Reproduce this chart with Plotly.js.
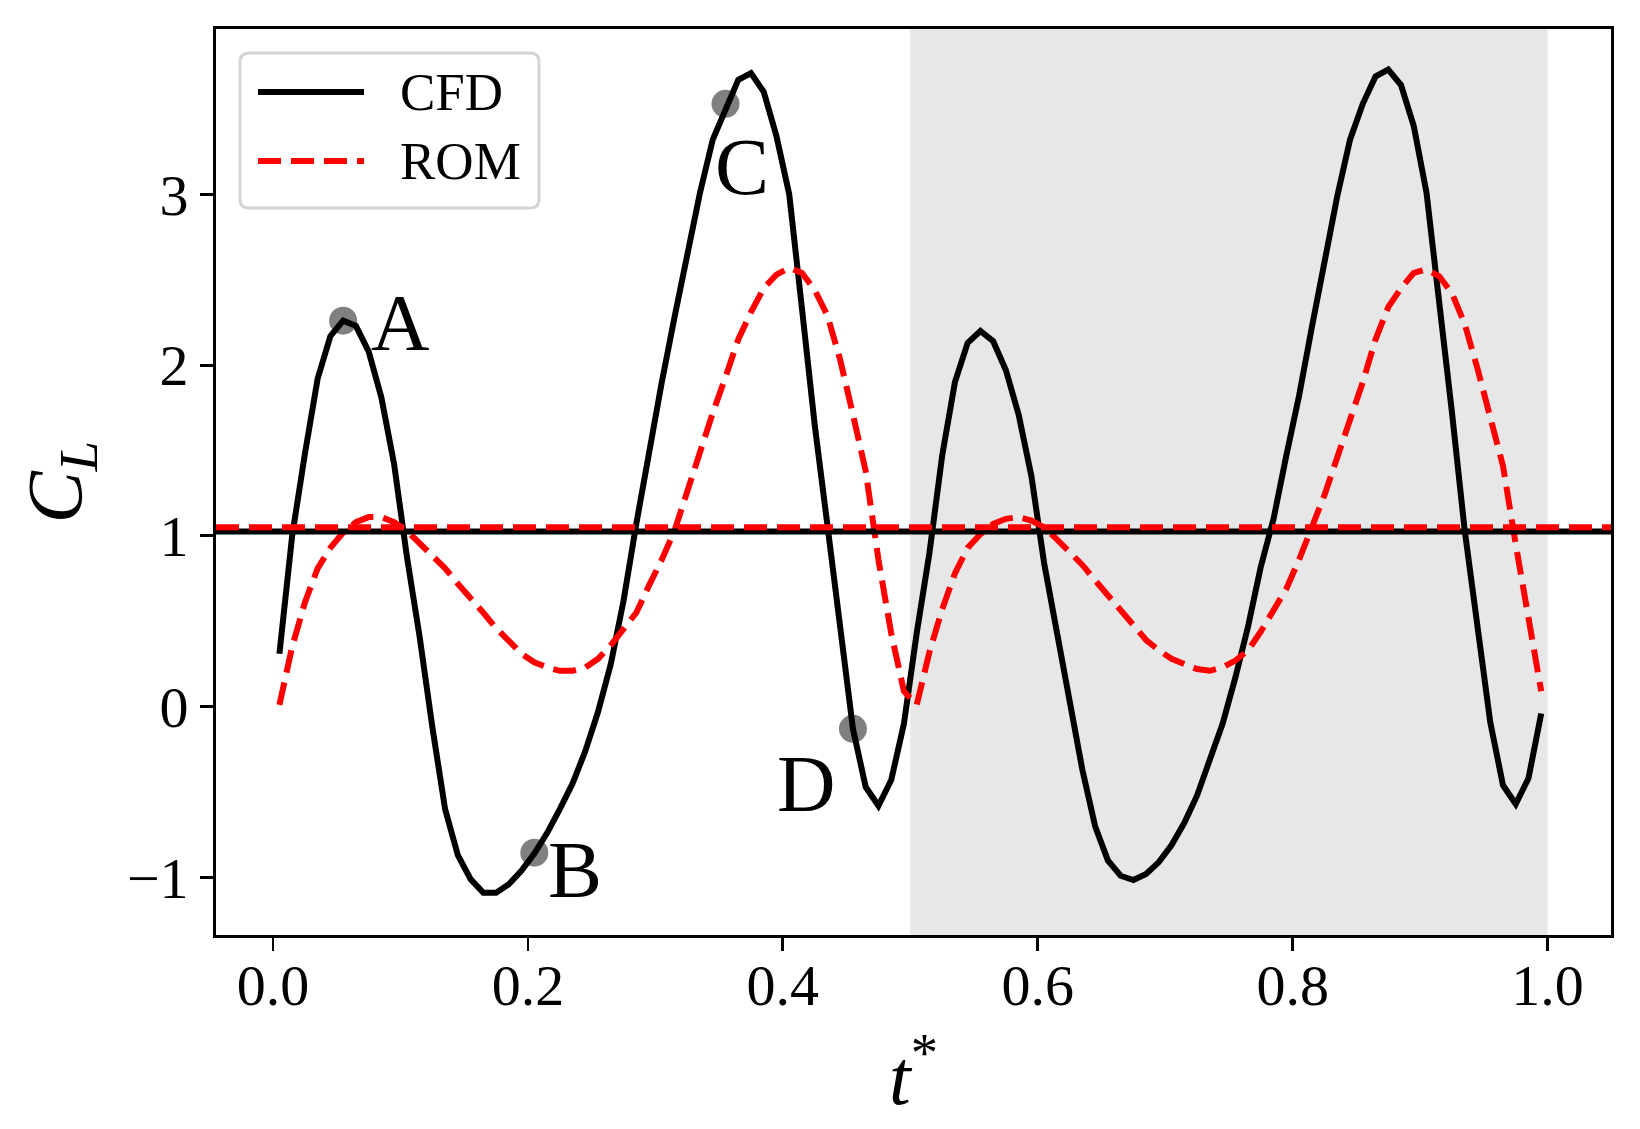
<!DOCTYPE html>
<html>
<head>
<meta charset="utf-8">
<script src="https://cdn.plot.ly/plotly-3.0.1.min.js"></script>
<style>
  html, body { margin: 0; padding: 0; background: #fff; }
  #chart { width: 1640px; height: 1129px; }
</style>
</head>
<body>
<div id="chart"></div>
<script>
// --- Data ---
const tStar = [
  0.005, 0.015, 0.025, 0.035, 0.045, 0.055, 0.065, 0.075, 0.085, 0.095,
  0.105, 0.115, 0.125, 0.135, 0.145, 0.155, 0.165, 0.175, 0.185, 0.195,
  0.205, 0.215, 0.225, 0.235, 0.245, 0.255, 0.265, 0.275, 0.285, 0.295,
  0.305, 0.315, 0.325, 0.335, 0.345, 0.355, 0.365, 0.375, 0.385, 0.395,
  0.405, 0.415, 0.425, 0.435, 0.445, 0.455, 0.465, 0.475, 0.485, 0.495,
  0.505, 0.515, 0.525, 0.535, 0.545, 0.555, 0.565, 0.575, 0.585, 0.595,
  0.605, 0.615, 0.625, 0.635, 0.645, 0.655, 0.665, 0.675, 0.685, 0.695,
  0.705, 0.715, 0.725, 0.735, 0.745, 0.755, 0.765, 0.775, 0.785, 0.795,
  0.805, 0.815, 0.825, 0.835, 0.845, 0.855, 0.865, 0.875, 0.885, 0.895,
  0.905, 0.915, 0.925, 0.935, 0.945, 0.955, 0.965, 0.975, 0.985, 0.995
];

const cfdLift = [
  0.31, 1.00, 1.48, 1.92, 2.17, 2.26, 2.23, 2.08, 1.81, 1.42,
  0.88, 0.41, -0.12, -0.60, -0.87, -1.01, -1.09, -1.09, -1.04, -0.96,
  -0.86, -0.74, -0.60, -0.45, -0.26, -0.03, 0.25, 0.62, 1.07, 1.50,
  1.90, 2.28, 2.65, 3.01, 3.32, 3.50, 3.67, 3.71, 3.60, 3.34,
  3.00, 2.33, 1.65, 1.06, 0.47, -0.13, -0.47, -0.58, -0.43, -0.10,
  0.43, 0.90, 1.47, 1.90, 2.13, 2.20, 2.14, 1.97, 1.71, 1.35,
  0.84, 0.42, 0.00, -0.37, -0.70, -0.90, -0.99, -1.015, -0.98, -0.91,
  -0.81, -0.68, -0.52, -0.31, -0.10, 0.17, 0.47, 0.82, 1.10, 1.47,
  1.82, 2.22, 2.62, 2.99, 3.32, 3.53, 3.69, 3.73, 3.64, 3.40,
  3.01, 2.40, 1.72, 1.03, 0.47, -0.09, -0.46, -0.57, -0.42, -0.04
];

const romLift = [
  0.01, 0.35, 0.61, 0.81, 0.93, 1.02, 1.08, 1.11, 1.11, 1.08,
  1.03, 0.96, 0.88, 0.81, 0.72, 0.64, 0.55, 0.46, 0.38, 0.31,
  0.26, 0.23, 0.21, 0.21, 0.23, 0.28, 0.36, 0.45, 0.55, 0.71,
  0.86, 1.03, 1.26, 1.50, 1.72, 1.93, 2.15, 2.31, 2.45, 2.53,
  2.57, 2.54, 2.44, 2.29, 2.03, 1.71, 1.38, 0.86, 0.43, 0.09,
  0.01, 0.32, 0.57, 0.78, 0.93, 1.01, 1.07, 1.10, 1.11, 1.09,
  1.05, 0.98, 0.91, 0.83, 0.74, 0.65, 0.56, 0.47, 0.39, 0.33,
  0.28, 0.25, 0.22, 0.21, 0.23, 0.27, 0.33, 0.44, 0.56, 0.69,
  0.86, 1.05, 1.24, 1.46, 1.67, 1.90, 2.15, 2.34, 2.45, 2.54,
  2.56, 2.52, 2.42, 2.24, 1.98, 1.70, 1.41, 0.95, 0.53, 0.09
];

const cfdMean = 1.025;
const romMean = 1.05;

const snapLabels = ['A', 'B', 'C', 'D'];
const snapT = [0.055, 0.205, 0.355, 0.455];
const snapCL = [2.26, -0.855, 3.53, -0.13];

const shadeSpan = [0.5, 1.0];

const xTicks = [0, 0.2, 0.4, 0.6, 0.8, 1.0];
const xTickText = ['0.0', '0.2', '0.4', '0.6', '0.8', '1.0'];
const yTicks = [-1, 0, 1, 2, 3];
const yTickText = ['\u22121', '0', '1', '2', '3'];

// --- Styling ---
const FONT = '"Liberation Serif", "DejaVu Serif", serif';
const LW = 6;
const DASH = '23px,10px';

const plotL = 216, plotT = 29, plotW = 1395, plotH = 906;
const px2x = px => (px - plotL) / plotW;
const px2y = py => 1 - (py - plotT) / plotH;

// label offsets (px) of A-D relative to their marker
const snapShift = [[57, -2], [41, -17], [16, -63], [-46, -55]];

const series = [
  { name: 'CFD', y: cfdLift, color: '#000000', dash: 'solid' },
  { name: 'ROM', y: romLift, color: '#ff0000', dash: DASH }
];

const traces = [
  {
    x: snapT, y: snapCL, mode: 'markers', type: 'scatter', name: 'snapshots',
    marker: { size: 28, color: '#808080' }, showlegend: false, hoverinfo: 'skip'
  }
].concat(series.map(s => ({
  x: tStar, y: s.y, mode: 'lines', type: 'scatter', name: s.name,
  line: { color: s.color, width: LW, dash: s.dash }, showlegend: false
})));

// shaded second period + mean lines
const shapes = [
  {
    type: 'rect', xref: 'x', yref: 'paper', x0: shadeSpan[0], x1: shadeSpan[1], y0: 0, y1: 1,
    fillcolor: '#e7e7e7', line: { width: 0 }, layer: 'below'
  },
  {
    type: 'line', xref: 'paper', yref: 'y', x0: 0, x1: 1, y0: cfdMean, y1: cfdMean,
    line: { color: '#000000', width: LW }, layer: 'above'
  },
  {
    type: 'line', xref: 'paper', yref: 'y', x0: 0, x1: 1, y0: romMean, y1: romMean,
    line: { color: '#ff0000', width: LW, dash: DASH }, layer: 'above'
  }
];

// legend frame, drawn by hand so the sample lines keep matplotlib length
const box = { x0: 240, x1: 539, y0: 53, y1: 208, r: 9 };
const rx = box.r / plotW, ry = box.r / plotH;
const bx0 = px2x(box.x0), bx1 = px2x(box.x1), by0 = px2y(box.y0), by1 = px2y(box.y1);
shapes.push({
  type: 'path', xref: 'paper', yref: 'paper', layer: 'above',
  path: `M${bx0 + rx},${by0} L${bx1 - rx},${by0} Q${bx1},${by0} ${bx1},${by0 - ry} ` +
        `L${bx1},${by1 + ry} Q${bx1},${by1} ${bx1 - rx},${by1} L${bx0 + rx},${by1} ` +
        `Q${bx0},${by1} ${bx0},${by1 + ry} L${bx0},${by0 - ry} Q${bx0},${by0} ${bx0 + rx},${by0} Z`,
  fillcolor: 'rgba(255,255,255,0.85)', line: { color: '#d4d4d4', width: 3 }
});

const annotations = [];
const legendRows = [92, 161];
series.forEach((s, i) => {
  shapes.push({
    type: 'line', xref: 'paper', yref: 'paper', layer: 'above',
    x0: px2x(258), x1: px2x(364), y0: px2y(legendRows[i]), y1: px2y(legendRows[i]),
    line: { color: s.color, width: LW, dash: s.dash }
  });
  annotations.push({
    xref: 'paper', yref: 'paper', x: px2x(398), y: px2y(legendRows[i]),
    xanchor: 'left', yanchor: 'middle', showarrow: false, text: s.name,
    font: { family: FONT, size: 53, color: '#000' }
  });
});

snapLabels.forEach((lab, i) => {
  annotations.push({
    x: snapT[i], y: snapCL[i], xref: 'x', yref: 'y', text: lab, showarrow: false,
    xanchor: 'center', yanchor: 'middle', xshift: snapShift[i][0], yshift: snapShift[i][1],
    font: { family: FONT, size: 81, color: '#000' }
  });
});

const axisCommon = {
  showgrid: false, zeroline: false, showline: true, mirror: true,
  linecolor: '#000', linewidth: 2.8,
  ticks: 'outside', ticklen: 13, tickwidth: 2.8, tickcolor: '#000',
  tickfont: { family: FONT, size: 58, color: '#000' }
};

const layout = {
  width: 1640, height: 1129,
  margin: { l: plotL, r: 1640 - plotL - plotW, t: plotT, b: 1129 - plotT - plotH },
  paper_bgcolor: '#ffffff', plot_bgcolor: '#ffffff',
  showlegend: false,
  xaxis: Object.assign({}, axisCommon, {
    range: [-0.04475, 1.04975], tickvals: xTicks, ticktext: xTickText,
    ticklabelstandoff: -15,
    title: { text: '<i>t</i><sup>*</sup>', font: { family: FONT, size: 78, color: '#000' }, standoff: 32 }
  }),
  yaxis: Object.assign({}, axisCommon, {
    range: [-1.337, 3.968], tickvals: yTicks, ticktext: yTickText,
    title: { text: '<i>C</i><sub><i>L</i></sub>', font: { family: FONT, size: 78, color: '#000' }, standoff: 20 }
  }),
  shapes: shapes,
  annotations: annotations
};

Plotly.newPlot('chart', traces, layout, { displayModeBar: false, staticPlot: true });
</script>
</body>
</html>
